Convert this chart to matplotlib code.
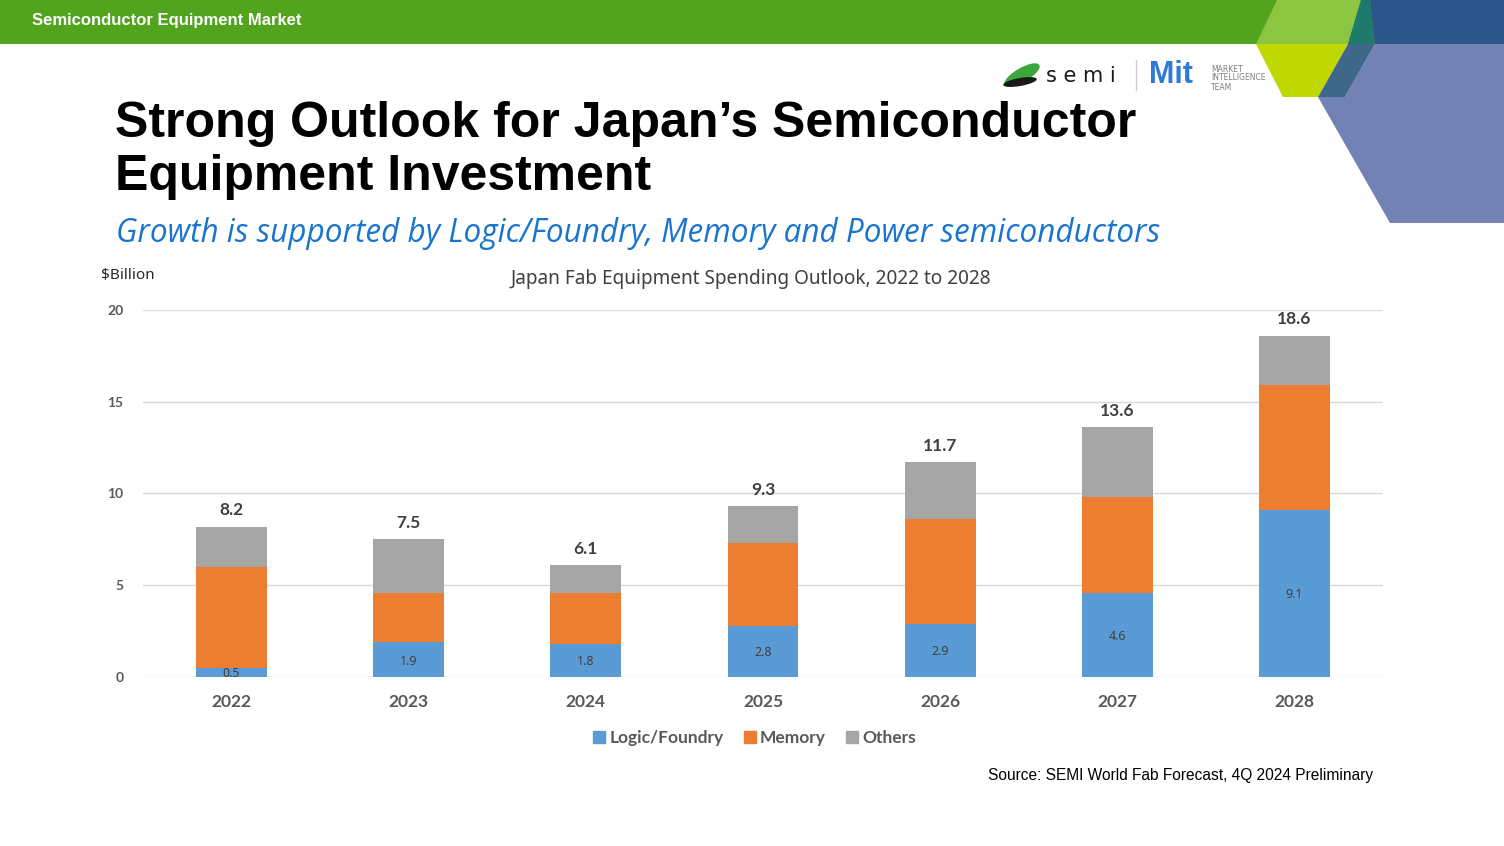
import matplotlib.pyplot as plt
from matplotlib.patches import Polygon, Ellipse
from matplotlib.lines import Line2D

W, H = 1504, 846

# ── Data ──────────────────────────────────────────────────────────────────────
years = ['2022', '2023', '2024', '2025', '2026', '2027', '2028']
logic = [0.5, 1.9, 1.8, 2.8, 2.9, 4.6, 9.1]
memory = [5.5, 2.7, 2.8, 4.5, 5.7, 5.2, 6.8]
others = [2.2, 2.9, 1.5, 2.0, 3.1, 3.8, 2.7]
totals = [8.2, 7.5, 6.1, 9.3, 11.7, 13.6, 18.6]
series_names = ['Logic/Foundry', 'Memory', 'Others']
yticks = [0, 5, 10, 15, 20]

BLUE, ORANGE, GREY = '#5B9BD5', '#ED7D31', '#A5A5A5'
LABEL = '#595959'
BOLDFONT = 'Lato'


def fx(x):
    return x / W


def fy(y):
    return 1 - y / H


fig = plt.figure(figsize=(W / 100, H / 100), dpi=100)
fig.patch.set_facecolor('white')

# ── Slide decoration (pixel coords) ─────────────────────────────────────────
bg = fig.add_axes([0, 0, 1, 1], zorder=0)
bg.set_xlim(0, W)
bg.set_ylim(H, 0)
bg.axis('off')

shapes = [
    ([(0, 0), (W, 0), (W, 44), (0, 44)], '#52A41E'),
    ([(1277, 0), (1361, 0), (1348, 44), (1256, 44)], '#8CC540'),
    ([(1361, 0), (1370, 0), (1375, 44), (1348, 44)], '#1F7A6E'),
    ([(1370, 0), (W, 0), (W, 44), (1375, 44)], '#2C5689'),
    ([(1256, 44), (1348, 44), (1318, 97), (1283, 97)], '#BFD800'),
    ([(1375, 44), (W, 44), (W, 223), (1390, 223), (1318, 97), (1345, 97)], '#7282B5'),
    ([(1348, 44), (1375, 44), (1345, 97), (1318, 97)], '#3E6789'),
]
for pts, c in shapes:
    bg.add_patch(Polygon(pts, closed=True, facecolor=c, edgecolor='none'))

# logos
bg.add_patch(Ellipse((1022, 75), 40, 14, angle=-30, facecolor='#3DA63A', edgecolor='none'))
bg.add_patch(Ellipse((1020, 82), 34, 8, angle=-10, facecolor='#1A1A1A', edgecolor='none'))
bg.text(1046, 76, 's e m i', fontsize=15, color='#1A1A1A', va='center', ha='left',
        family='DejaVu Sans')
bg.plot([1136, 1136], [60, 90], color='#CCCCCC', lw=1)
bg.text(1149, 75, 'Mit', fontsize=22, fontweight='bold', color='#2D7BD6',
        va='center', ha='left', family='Liberation Sans')
for i, t in enumerate(['MARKET', 'INTELLIGENCE', 'TEAM']):
    bg.text(1211, 69 + i * 9, t, fontsize=5.5, color='#7F7F7F', va='center', ha='left')

fig.text(fx(32), fy(21), 'Semiconductor Equipment Market', color='white',
         fontsize=12, fontweight='bold', family='Liberation Sans', va='center')
fig.text(fx(115), fy(137), 'Strong Outlook for Japan\u2019s Semiconductor',
         fontsize=36, fontweight='bold', family='Liberation Sans', va='baseline')
fig.text(fx(115), fy(190), 'Equipment Investment',
         fontsize=36, fontweight='bold', family='Liberation Sans', va='baseline')
fig.text(fx(116), fy(233),
         'Growth is supported by Logic/Foundry, Memory and Power semiconductors',
         fontsize=22.7, style='italic', color='#1874CD', family='Open Sans', va='center')
fig.text(fx(101), fy(275), '$Billion', fontsize=11, color='#262626',
         family='Noto Sans', va='center')
fig.text(fx(751), fy(279), 'Japan Fab Equipment Spending Outlook, 2022 to 2028',
         fontsize=13.7, color='#404040', family='Noto Sans', ha='center', va='center')
fig.text(fx(1373), fy(775), 'Source: SEMI World Fab Forecast, 4Q 2024 Preliminary',
         fontsize=11.2, family='Liberation Sans', ha='right', va='center')

# ── Chart ─────────────────────────────────────────────────────────────────────
ax = fig.add_axes([fx(143), fy(677), (1383 - 143) / W, (677 - 310) / H], zorder=1)
ax.patch.set_alpha(0)
x = list(range(len(years)))
bw = 0.4
bottom2 = [a + b for a, b in zip(logic, memory)]
ax.bar(x, logic, bw, color=BLUE, zorder=3)
ax.bar(x, memory, bw, bottom=logic, color=ORANGE, zorder=3)
ax.bar(x, others, bw, bottom=bottom2, color=GREY, zorder=3)

for i in x:
    ax.text(i, logic[i] / 2 - 0.08, f'{logic[i]:.1f}', ha='center', va='center',
            fontsize=9, color='#404040', family='Noto Sans', zorder=4)
    ax.text(i, totals[i] + 0.45, f'{totals[i]:.1f}', ha='center', va='bottom',
            fontsize=12.5, fontweight='bold', color='#404040', family=BOLDFONT)

ax.set_xlim(-0.5, len(years) - 0.5)
ax.set_ylim(0, 20)
ax.set_yticks(yticks)
ax.set_xticks(x)
ax.set_xticklabels(years)
ax.grid(axis='y', color='#D9D9D9', lw=1, zorder=0)
for s in ax.spines.values():
    s.set_visible(False)
ax.tick_params(length=0)
for lab in ax.get_yticklabels():
    lab.set(fontsize=10, fontweight='bold', color=LABEL, family=BOLDFONT)
for lab in ax.get_xticklabels():
    lab.set(fontsize=12.5, fontweight='bold', color=LABEL, family=BOLDFONT)
ax.tick_params(axis='y', pad=14)
ax.tick_params(axis='x', pad=12)

handles = [Line2D([], [], marker='s', ls='none', markersize=9, color=c)
           for c in (BLUE, ORANGE, GREY)]
fig.legend(handles, series_names, loc='center', bbox_to_anchor=(fx(754), fy(738)),
           ncol=3, frameon=False, handlelength=0.8, handletextpad=0.2,
           columnspacing=1.1,
           prop={'family': BOLDFONT, 'weight': 'bold', 'size': 12.5},
           labelcolor=LABEL)

fig.savefig('out.png', dpi=100)
